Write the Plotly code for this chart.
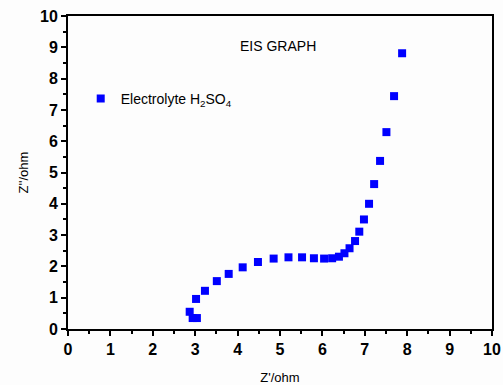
import plotly.graph_objects as go

z_real = [2.87, 2.94, 3.04, 3.02, 3.23, 3.51, 3.79, 4.12, 4.48, 4.85, 5.20, 5.52, 5.80,
          6.04, 6.23, 6.39, 6.52, 6.64, 6.77, 6.87, 6.98, 7.10, 7.22, 7.36, 7.51, 7.69, 7.88]
z_imag = [0.55, 0.35, 0.35, 0.96, 1.22, 1.53, 1.76, 1.97, 2.14, 2.25, 2.29, 2.29, 2.26,
          2.25, 2.26, 2.31, 2.42, 2.58, 2.81, 3.11, 3.50, 4.00, 4.63, 5.37, 6.29, 7.44, 8.81]
series_name = "Electrolyte H<sub>2</sub>SO<sub>4</sub>"
title_text = "EIS GRAPH"
x_title = "Z'/ohm"
y_title = "Z''/ohm"

fig = go.Figure()
fig.add_trace(go.Scatter(
    x=z_real, y=z_imag, mode="markers", name=series_name,
    marker=dict(symbol="square", size=8, color="#0000FF", line=dict(width=0)),
))

font_family = "Liberation Sans, Arial, sans-serif"
axis_common = dict(
    range=[0, 10], dtick=1, tick0=0, automargin=False,
    showline=True, linecolor="black", linewidth=2, mirror=True,
    ticks="outside", ticklen=5, tickwidth=2, tickcolor="black",
    minor=dict(ticks="outside", ticklen=3, tickwidth=1.5, tickcolor="black", dtick=0.5),
    showgrid=False, zeroline=False,
    tickfont=dict(family=font_family, size=16, color="black", weight="bold"),
)

fig.update_layout(
    width=503, height=385,
    margin=dict(l=68, r=11, t=16, b=56),
    paper_bgcolor="#fdfdfd", plot_bgcolor="#fdfdfd",
    xaxis=dict(**axis_common, title=dict(text=x_title, font=dict(family=font_family, size=13, color="black"), standoff=18)),
    yaxis=dict(**axis_common, title=dict(text=y_title, font=dict(family=font_family, size=13, color="black"), standoff=8)),
    showlegend=True,
    legend=dict(x=0.03, y=0.735, xanchor="left", yanchor="middle", bgcolor="rgba(0,0,0,0)",
                font=dict(family=font_family, size=14, color="black")),
    annotations=[dict(text=title_text, x=0.495, y=0.905, xref="paper", yref="paper",
                      xanchor="center", yanchor="middle", showarrow=False,
                      font=dict(family=font_family, size=14, color="black"))],
)

fig.write_html("out.html")
